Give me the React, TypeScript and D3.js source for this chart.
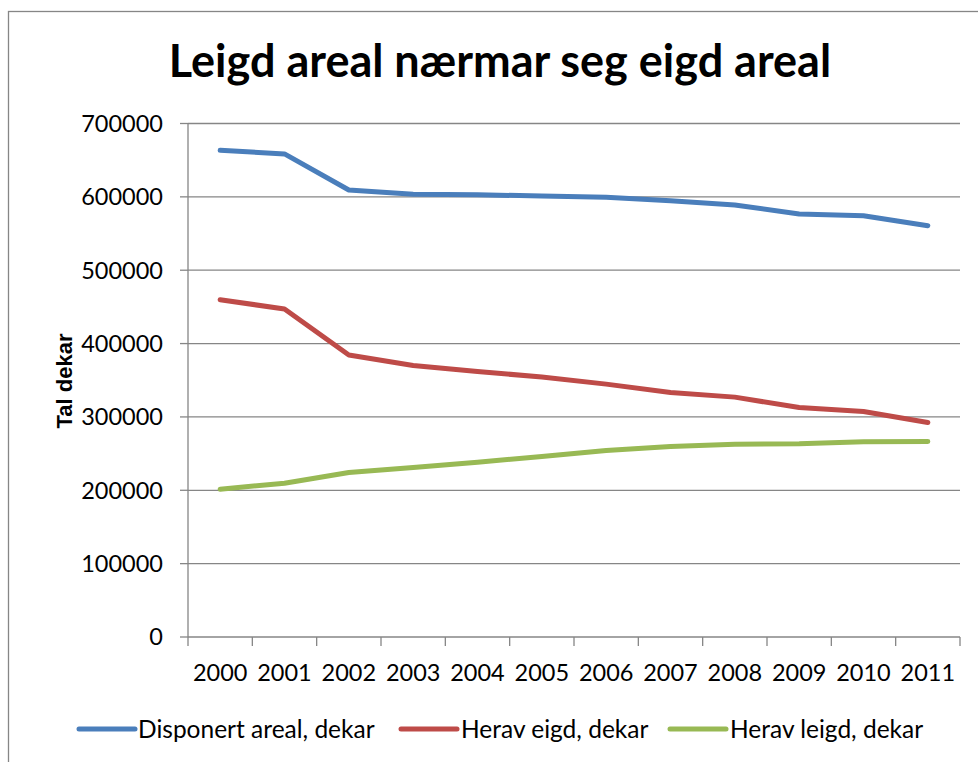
import React from "react";
import * as d3 from "d3";

const years = ["2000","2001","2002","2003","2004","2005","2006","2007","2008","2009","2010","2011"];
const disponert = [663400, 658500, 609400, 603400, 603000, 601000, 599300, 594800, 589000, 576600, 574300, 560700];
const eigd = [459800, 447100, 384300, 370100, 362000, 354300, 344700, 333300, 327000, 312800, 307400, 292400];
const leigd = [201500, 209700, 224200, 231000, 238300, 246000, 254200, 259600, 262900, 263300, 266000, 266400];
const yTicks = [0, 100000, 200000, 300000, 400000, 500000, 600000, 700000];
const seriesNames = ["Disponert areal, dekar", "Herav eigd, dekar", "Herav leigd, dekar"];
const colors = ["#4A7EBB", "#BE4B48", "#98B954"];

const FONT = "Lato, 'Open Sans', sans-serif";

export default function App() {
  const W = 978, H = 762;
  const left = 188, right = 960, top = 123.5, bottom = 637;
  const x = d3.scaleBand().domain(years).range([left, right]).paddingInner(0).paddingOuter(0);
  const y = d3.scaleLinear().domain([0, 700000]).range([bottom, top]);
  const line = d3.line<number>()
    .x((_, i) => (x(years[i]) as number) + x.bandwidth() / 2)
    .y((d) => y(d));
  const allSeries = [disponert, eigd, leigd];
  const grid = "#868686";
  const legendItems = [
    { lx: 79, tx: 138 },
    { lx: 401, tx: 461 },
    { lx: 670, tx: 730 },
  ];
  return (
    <svg width={W} height={H} style={{ position: "absolute", left: 0, top: 0, background: "#fff" }}>
      <rect x={0} y={0} width={W} height={H} fill="#fff" />
      <rect x={8.5} y={11.5} width={1100} height={900} fill="none" stroke="#868686" strokeWidth={1.3} />
      <text x={500} y={77} textAnchor="middle" fontFamily={FONT} fontWeight={700} fontSize={45} fill="#000">
        Leigd areal nærmar seg eigd areal
      </text>
      {yTicks.map((t) => (
        <g key={t}>
          {t > 0 && <line x1={left} x2={right} y1={y(t)} y2={y(t)} stroke={grid} strokeWidth={1.3} />}
          <line x1={180} x2={left} y1={y(t)} y2={y(t)} stroke={grid} strokeWidth={1.3} />
          <text x={163} y={y(t)} dy="0.36em" textAnchor="end" fontFamily={FONT} fontSize={23.5} fill="#000">
            {t}
          </text>
        </g>
      ))}
      <line x1={left} x2={left} y1={top} y2={bottom} stroke={grid} strokeWidth={1.3} />
      <line x1={left} x2={right} y1={bottom} y2={bottom} stroke={grid} strokeWidth={1.3} />
      {years.map((yr) => (
        <line key={"t" + yr} x1={x(yr) as number} x2={x(yr) as number} y1={bottom} y2={bottom + 9} stroke={grid} strokeWidth={1.3} />
      ))}
      <line x1={right} x2={right} y1={bottom} y2={bottom + 9} stroke={grid} strokeWidth={1.3} />
      {years.map((yr) => (
        <text key={"l" + yr} x={(x(yr) as number) + x.bandwidth() / 2} y={681} textAnchor="middle" fontFamily={FONT} fontSize={23.5} fill="#000">
          {yr}
        </text>
      ))}
      <text transform="translate(72,381) rotate(-90)" textAnchor="middle" fontFamily="'Liberation Sans', Arial, sans-serif" fontWeight={700} fontSize={22} fill="#000">
        Tal dekar
      </text>
      {allSeries.map((s, i) => (
        <path key={i} d={line(s) as string} fill="none" stroke={colors[i]} strokeWidth={5} strokeLinecap="round" strokeLinejoin="round" />
      ))}
      {legendItems.map((it, i) => (
        <g key={"lg" + i}>
          <line x1={it.lx} x2={it.lx + 56} y1={729} y2={729} stroke={colors[i]} strokeWidth={5} strokeLinecap="round" />
          <text x={it.tx} y={729} dy="0.36em" fontFamily={FONT} fontSize={24.5} fill="#000">
            {seriesNames[i]}
          </text>
        </g>
      ))}
    </svg>
  );
}
